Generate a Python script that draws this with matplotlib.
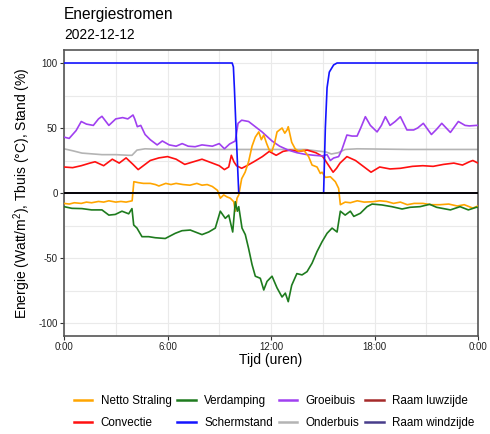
import matplotlib
matplotlib.use("Agg")
import matplotlib.pyplot as plt
from matplotlib.ticker import MultipleLocator, FuncFormatter

plt.rcParams['font.family'] = ['Liberation Sans', 'DejaVu Sans']
plt.rcParams['mathtext.default'] = 'regular'
plt.rcParams['axes.unicode_minus'] = False

title = "Energiestromen"
subtitle = "2022-12-12"
xlabel = "Tijd (uren)"
ylabel = "Energie (Watt/m$^2$), Tbuis (°C), Stand (%)"

# ---- data (hours, values) ----
t_netto = [0, 0.3, 0.6, 1.0, 1.3, 1.6, 2.0, 2.3, 2.6, 3.0, 3.3, 3.6, 3.95, 4.05, 4.3, 4.6, 5.0, 5.3, 5.5,
           5.9, 6.2, 6.5, 6.9, 7.3, 7.7, 8.0, 8.3, 8.6, 8.9, 9.06, 9.26, 9.45, 9.64, 9.84, 9.93, 10.03,
           10.13, 10.3, 10.5, 10.7, 10.9, 11.09, 11.29, 11.44, 11.58, 11.75, 11.9, 12.05, 12.2, 12.35,
           12.64, 12.8, 12.93, 13.0, 13.2, 13.4, 13.6, 13.9, 14.18, 14.38, 14.67, 14.86, 14.96, 15.15,
           15.44, 15.73, 15.92, 16.02, 16.3, 16.6, 17.0, 17.4, 17.9, 18.3, 18.7, 19.1, 19.5, 19.9, 20.3,
           20.8, 21.3, 21.8, 22.3, 22.8, 23.2, 23.7, 24]
v_netto = [-8, -8.5, -7.5, -8, -7, -7.5, -6.5, -7, -6, -7, -6.5, -7, -6, 8.7, 8, 7.4, 7.4, 6.5, 5.4,
           7.4, 6.5, 7.4, 6.5, 6, 7.4, 6, 6.5, 5, 2, -4, -1.5, -3, -4, -6.7, -14, -4,
           -1.5, 11, 16, 24, 36, 43, 47, 41, 44.6, 38, 33, 32, 38, 47,
           50, 46, 48.5, 51, 39, 34, 32, 33, 28, 21.5, 20, 15, 16, 12,
           12.5, 8.7, 3.6, -9, -7, -7.5, -6, -7, -6.7, -6, -6.5, -8, -7, -9, -8,
           -8, -9, -9, -8.5, -10, -9, -11.6, -10]

t_conv = [0, 0.5, 1.0, 1.5, 1.8, 2.3, 2.8, 3.2, 3.6, 4.0, 4.3, 4.6, 5.0, 5.5, 6.0, 6.5, 7.0, 7.5, 8.0,
          8.6, 9.0, 9.3, 9.55, 9.7, 9.85, 10.0, 10.3, 10.6, 11.0, 11.5, 11.9, 12.3, 12.7, 13.1, 13.6,
          14.1, 14.6, 15.0, 15.3, 15.6, 15.8, 16.0, 16.4, 16.9, 17.3, 17.8, 18.3, 18.9, 19.5, 20.2,
          20.8, 21.4, 22.0, 22.6, 23.1, 23.5, 23.7, 24]
v_conv = [20, 19.5, 21, 23, 24, 21, 26, 23, 27, 22, 18, 21, 25, 27, 28, 26, 22, 24, 26,
          23, 21, 18, 20, 29, 24, 21, 19, 21, 24, 28, 32, 29, 32, 33, 32,
          33, 31, 28, 22, 16, 19, 23, 28, 25, 21, 16, 20, 18.5, 19, 20.5,
          21, 20.5, 22, 23, 21.5, 24, 25, 23]

t_verd = [0, 0.46, 1.04, 1.6, 2.2, 2.6, 2.97, 3.36, 3.75, 3.94, 4.04, 4.23, 4.52, 4.91, 5.29, 5.87,
          6.45, 6.84, 7.32, 7.61, 8.0, 8.39, 8.77, 9.06, 9.35, 9.55, 9.78, 9.93, 10.05, 10.13, 10.32,
          10.51, 10.7, 10.9, 11.09, 11.38, 11.58, 11.77, 12.06, 12.35, 12.64, 12.83, 13.0, 13.2, 13.5,
          13.8, 14.09, 14.38, 14.67, 14.96, 15.25, 15.54, 15.83, 16.02, 16.3, 16.6, 16.8, 17.18, 17.57,
          17.86, 18.43, 19.0, 19.6, 20.06, 20.64, 21.2, 21.6, 22.4, 22.96, 23.44, 23.9, 24]
v_verd = [-10.5, -11.8, -12, -13, -13, -17, -16.5, -14, -16, -12, -24.6, -27, -33.6, -33.6, -34.4, -35,
          -31, -29, -28.5, -30, -32, -30, -27, -14, -19.5, -17, -30, -6.7, -14, -10.5, -27,
          -32, -42.6, -55, -64, -65.6, -74.6, -68, -64, -73, -80, -77, -83.6, -71, -62,
          -63, -60.5, -54, -45, -37.5, -31, -27, -30, -14, -17, -14, -18, -15.6, -10.5,
          -8.5, -9.2, -10.5, -12.3, -11, -10.5, -8.7, -11, -13, -10.5, -13, -11, -11]

t_scherm = [0, 9.75, 9.82, 9.88, 10.0, 10.13, 15.05, 15.15, 15.25, 15.38, 15.63, 15.83, 24]
v_scherm = [100, 100, 97, 80, 40, 0, 0, 50, 81, 93, 98.5, 100, 100]

t_groei = [0, 0.3, 0.7, 1.0, 1.3, 1.7, 2.0, 2.2, 2.6, 3.0, 3.4, 3.7, 4.0, 4.1, 4.25, 4.45, 4.7, 5.0,
           5.4, 5.7, 6.1, 6.5, 6.85, 7.2, 7.6, 8.0, 8.6, 9.0, 9.3, 9.6, 9.93, 10.09, 10.3, 10.7, 11.09,
           11.48, 12.06, 12.5, 13.0, 13.5, 14.0, 14.5, 14.96, 15.25, 15.44, 15.63, 15.92, 16.1, 16.4,
           16.7, 16.99, 17.2, 17.47, 17.76, 18.15, 18.4, 18.63, 18.9, 19.2, 19.5, 19.88, 20.27, 20.5,
           20.83, 21.3, 21.6, 21.9, 22.4, 22.86, 23.25, 23.5, 23.9, 24]
v_groei = [43, 42, 48, 55, 53, 52, 57, 59, 52, 57, 58, 57, 60, 57, 51, 52, 45, 41,
           37, 40, 37, 36, 38, 36, 35.6, 37, 36, 38, 34, 37.7, 40, 53.6, 56, 55, 51,
           47, 40, 36, 33, 31, 29.7, 29, 28.5, 29.5, 25, 26.9, 28, 33, 44.6,
           43.8, 43.8, 50, 58.7, 52, 47, 52, 58.7, 52, 55, 58.7, 48.5, 48.5, 50,
           53.6, 45, 49, 53.6, 46.6, 55, 52, 51.6, 52, 52]

t_onder = [0, 0.5, 1.04, 2.2, 3.0, 3.75, 3.94, 4.23, 4.7, 5.5, 9.0, 10.0, 12.0, 14.0, 15.2, 15.5,
           15.9, 16.3, 17.0, 20.0, 22.0, 24]
v_onder = [34, 32.5, 30.7, 29.5, 29.5, 29, 29, 33, 34, 33.6, 33.5, 33.5, 33.5, 33.5, 31.5, 30,
           31, 33.5, 34, 33.5, 33.5, 33.5]

t_raam_luw = [0, 24]
v_raam_luw = [0, 0]
t_raam_wind = [0, 24]
v_raam_wind = [0, 0]

series = [
    ("Netto Straling", t_netto, v_netto, "#FFA500"),
    ("Convectie", t_conv, v_conv, "#FF1010"),
    ("Verdamping", t_verd, v_verd, "#1E7B1E"),
    ("Schermstand", t_scherm, v_scherm, "#1414FF"),
    ("Groeibuis", t_groei, v_groei, "#A040F0"),
    ("Onderbuis", t_onder, v_onder, "#B4B4B4"),
    ("Raam luwzijde", t_raam_luw, v_raam_luw, "#A52A2A"),
    ("Raam windzijde", t_raam_wind, v_raam_wind, "#483D8B"),
]

fig = plt.figure(figsize=(4.9, 4.34), dpi=100)
ax = fig.add_axes([64 / 490, 1 - 336 / 434, 414 / 490, 286 / 434])

z = {"Onderbuis": 2, "Convectie": 3, "Groeibuis": 4, "Netto Straling": 5, "Verdamping": 5,
     "Schermstand": 6, "Raam luwzijde": 1, "Raam windzijde": 1}
for name, t, v, c in series:
    ax.plot(t, v, color=c, lw=1.2, label=name, zorder=z[name])

ax.axhline(0, color="black", lw=1.3, zorder=7)

ax.set_xlim(0, 24)
ax.set_ylim(-110, 110)
ax.xaxis.set_major_locator(MultipleLocator(6))
ax.xaxis.set_minor_locator(MultipleLocator(3))
ax.yaxis.set_major_locator(MultipleLocator(50))
ax.yaxis.set_minor_locator(MultipleLocator(25))
ax.xaxis.set_major_formatter(FuncFormatter(lambda x, p: f"{int(x) % 24 if x < 24 else 0}:00"))
ax.grid(which="both", color="#EAEAEA", lw=0.8, zorder=0)
ax.set_axisbelow(True)
ax.tick_params(which="major", length=3, width=0.8, color="#333333", labelsize=7,
               labelcolor="#222222", pad=1.5)
ax.tick_params(which="minor", length=0)
for s in ax.spines.values():
    s.set_color("#555555")
    s.set_linewidth(1.2)

ax.set_xlabel(xlabel, fontsize=10, labelpad=0.5)
fig.text(22 / 490, 1 - 193 / 434, ylabel, rotation=90, ha="center", va="center", fontsize=10)

fig.text(64 / 490, 1 - 15 / 434, title, fontsize=11.2, ha="left", va="center")
fig.text(64 / 490, 1 - 35 / 434, subtitle, fontsize=9.9, ha="left", va="center")

leg = fig.legend(loc="center", bbox_to_anchor=(274 / 490, 1 - 412 / 434), ncol=4, frameon=False,
                 fontsize=8.4, handlelength=1.6, handletextpad=0.7, columnspacing=0.5,
                 labelspacing=0.85)
for line in leg.get_lines():
    line.set_linewidth(1.8)

fig.savefig("out.png", dpi=100)
